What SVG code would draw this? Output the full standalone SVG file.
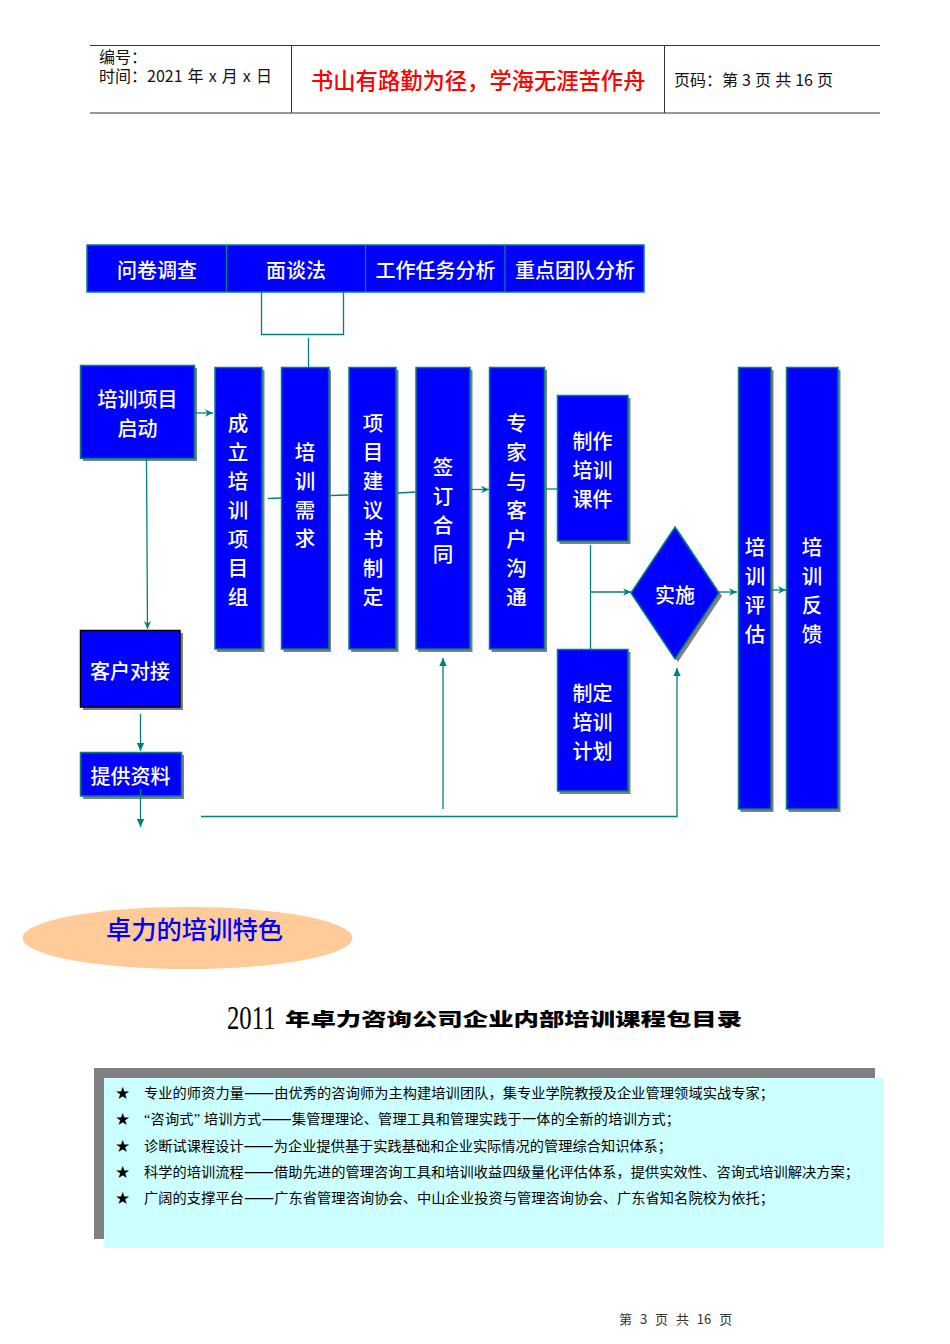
<svg xmlns="http://www.w3.org/2000/svg" width="950" height="1344" viewBox="0 0 950 1344">
<style>
text{font-family:"Noto Sans CJK SC","Noto Sans",sans-serif}
.b{fill:#00f;stroke:#008080;stroke-width:1.5}
.s{fill:#808080}
.t{fill:#fff;font-size:20px;text-anchor:middle;font-weight:500}
.v{fill:#fff;font-size:20.5px;text-anchor:middle;font-weight:500}
.hl{stroke:#333;stroke-width:1;fill:none}
.c{stroke:#008080;stroke-width:1.3;fill:none}
.h{fill:#111;font-size:16px}
.l{fill:#000;font-size:14.2px}
.q{font-family:"Liberation Serif",serif}
.d{font-size:18px}
.st{fill:#000;font-size:17px;text-anchor:middle;font-family:"DejaVu Sans",sans-serif}
</style>
<defs>
<marker id="o" markerUnits="userSpaceOnUse" markerWidth="9" markerHeight="9" refX="8" refY="4.5" orient="auto"><path d="M0,0.8 L8,4.5 L0,8.2 L2.5,4.5z" fill="#008080"/></marker>
<marker id="f" markerUnits="userSpaceOnUse" markerWidth="9" markerHeight="9" refX="8" refY="4.5" orient="auto"><path d="M0,0.8 L8,4.5 L0,8.2z" fill="#008080"/></marker>
</defs>
<g id="header">
<path class="hl" d="M90 45.5H880M90 113H880M291.5 45.5V113M664.5 45.5V113"/>
<text class="h"><tspan x="99" y="63">编号：</tspan><tspan x="99" y="82" style="word-spacing:1.5px">时间：2021 年 x 月 x 日</tspan></text>
<text x="311" y="89" style="fill:#f00;font-size:22.3px;font-weight:500">书山有路勤为径，学海无涯苦作舟</text>
<text class="h" x="674" y="86" style="word-spacing:.5px">页码：第 3 页 共 16 页</text>
</g>
<g id="top-bar">
<rect class="b" x="87" y="245" width="557" height="47"/>
<path class="c" d="M226.500 245V292M365.500 245V292M505 245V292"/>
<text class="t" x="157" y="278">问卷调查</text>
<text class="t" x="296" y="278">面谈法</text>
<text class="t" x="435.500" y="278">工作任务分析</text>
<text class="t" x="575" y="278">重点团队分析</text>
</g>
<g id="n-start"><rect class="s" x="83" y="368" width="114" height="93"/><rect class="b" x="80.500" y="365.500" width="114" height="93"/><text class="t" x="137.500" y="406.500">培训项目</text><text class="t" x="137.500" y="435.500">启动</text></g>
<g id="n-team"><rect class="s" x="217" y="370" width="47.500" height="282"/><rect class="b" x="215" y="367.500" width="47" height="281.500"/><text class="v" x="238 238 238 238 238 238 238" y="430.500 459.500 488.500 517.500 546.500 575.500 604.500">成立培训项目组</text></g>
<g id="n-need"><rect class="s" x="283.500" y="370" width="47.500" height="282"/><rect class="b" x="281.500" y="367.500" width="47.500" height="281.500"/><text class="v" x="305 305 305 305" y="459.500 488.500 517.500 545.500">培训需求</text></g>
<g id="n-proposal"><rect class="s" x="351" y="370" width="47.500" height="282"/><rect class="b" x="349" y="367.500" width="47" height="281.500"/><text class="v" x="373 373 373 373 373 373 373" y="430.500 459.500 488.500 517.500 546.500 575.500 604.500">项目建议书制定</text></g>
<g id="n-contract"><rect class="s" x="418" y="370" width="54.500" height="282"/><rect class="b" x="416" y="367.500" width="54" height="281.500"/><text class="v" x="443 443 443 443" y="474.500 503.500 532.500 561.500">签订合同</text></g>
<g id="n-expert"><rect class="s" x="491.500" y="370" width="55.500" height="282"/><rect class="b" x="489.500" y="367.500" width="55" height="281.500"/><text class="v" x="516.500 516.500 516.500 516.500 516.500 516.500 516.500" y="430.500 459.500 488.500 517.500 546.500 575.500 604.500">专家与客户沟通</text></g>
<g id="n-courseware"><rect class="s" x="559.500" y="398" width="71" height="146"/><rect class="b" x="557.500" y="395.500" width="70.500" height="145.500"/><text class="t" x="592.500" y="448.500">制作</text><text class="t" x="592.500" y="477.500">培训</text><text class="t" x="592.500" y="506.500">课件</text></g>
<g id="n-plan"><rect class="s" x="559.500" y="652" width="71" height="142"/><rect class="b" x="557.500" y="649.500" width="70.500" height="141.500"/><text class="t" x="592.500" y="700.500">制定</text><text class="t" x="592.500" y="729.500">培训</text><text class="t" x="592.500" y="758.500">计划</text></g>
<g id="n-implement"><path class="s" d="M678 530L722 596L678 662L634 596z"/><path class="b" d="M675 527L719 593L675 659L631 593z"/><text class="t" x="675" y="602.500">实施</text></g>
<g id="n-eval"><rect class="s" x="740.500" y="370" width="33" height="442"/><rect class="b" x="738.500" y="367.500" width="32.500" height="441.500"/><text class="v" x="755 755 755 755" y="554.500 583.500 612.500 641.500">培训评估</text></g>
<g id="n-feedback"><rect class="s" x="788.500" y="370" width="52" height="442"/><rect class="b" x="786.500" y="367.500" width="51.500" height="441.500"/><text class="v" x="812 812 812 812" y="554.500 583.500 612.500 641.500">培训反馈</text></g>
<g id="n-client"><rect class="s" x="83" y="633" width="100" height="77"/><rect x="80.500" y="630.500" width="99.500" height="76.500" fill="#00f" stroke="#000" stroke-width="1.500"/><text class="t" x="130" y="678.500">客户对接</text></g>
<g id="n-material"><rect class="s" x="83" y="755" width="101" height="44"/><rect class="b" x="80.500" y="752.500" width="101" height="43.500"/><text class="t" x="130.500" y="783.500">提供资料</text></g>
<g id="connectors">
<path class="c" d="M261.500 292V334.500H343.500V292"/>
<path class="c" d="M308.500 338V367"/>
<path class="c" d="M195 413H213" marker-end="url(#o)"/>
<path class="c" d="M146.500 459L147.500 629" marker-end="url(#o)"/>
<path class="c" d="M268 498.500L281 498"/>
<path class="c" d="M331 495.500L348.500 495"/>
<path class="c" d="M398 493L415.500 492"/>
<path class="c" d="M470 489.500H489" marker-end="url(#o)"/>
<path class="c" d="M546 489H557"/>
<path class="c" d="M590.500 545V649"/>
<path class="c" d="M590.500 592H631" marker-end="url(#o)"/>
<path class="c" d="M719 592H737" marker-end="url(#o)"/>
<path class="c" d="M772 590H786" marker-end="url(#o)"/>
<path class="c" d="M140.500 714V751" marker-end="url(#f)"/>
<path class="c" d="M140.500 789V827" marker-end="url(#f)"/>
<path class="c" d="M201 816.500H677V668" marker-end="url(#f)"/>
<path class="c" d="M443 809V658" marker-end="url(#f)"/>
</g>
<g id="feature-ellipse">
<ellipse cx="187.500" cy="938" rx="165" ry="31" fill="#fc9"/>
<text x="194.500" y="939" style="fill:#00f;font-size:25.300px;text-anchor:middle;font-weight:500">卓力的培训特色</text>
</g>
<g id="title">
<text transform="translate(227 1029) scale(.75 1)" style="font-family:'Liberation Serif',serif;font-size:33px;fill:#000">2011</text>
<text transform="translate(285 1026) scale(1 .72)" style="font-size:25.400px;font-weight:900;fill:#000">年卓力咨询公司企业内部培训课程包目录</text>
</g>
<g id="features">
<rect x="94" y="1068" width="781" height="171" fill="#808080"/>
<rect x="104" y="1078" width="780" height="170" fill="#cff"/>
<text class="st" x="122.500" y="1099">★</text>
<text class="st" x="122.500" y="1125">★</text>
<text class="st" x="122.500" y="1152">★</text>
<text class="st" x="122.500" y="1178">★</text>
<text class="st" x="122.500" y="1204">★</text>
<text class="l" x="144" y="1098" textLength="630">专业的师资力量<tspan class="d" dy="1.400">——</tspan><tspan dy="-1.400">由优秀的咨询师为主构建培训团队，集专业学院教授及企业管理领域实战专家；</tspan></text>
<text class="l" x="144" y="1124" textLength="536"><tspan class="q">“</tspan>咨询式<tspan class="q">” </tspan>培训方式<tspan class="d" dy="1.400">——</tspan><tspan dy="-1.400">集管理理论、管理工具和管理实践于一体的全新的培训方式；</tspan></text>
<text class="l" x="144" y="1151" textLength="528">诊断试课程设计<tspan class="d" dy="1.400">——</tspan><tspan dy="-1.400">为企业提供基于实践基础和企业实际情况的管理综合知识体系；</tspan></text>
<text class="l" x="144" y="1177" textLength="715">科学的培训流程<tspan class="d" dy="1.400">——</tspan><tspan dy="-1.400">借助先进的管理咨询工具和培训收益四级量化评估体系，提供实效性、咨询式培训解决方案；</tspan></text>
<text class="l" x="144" y="1203" textLength="630">广阔的支撑平台<tspan class="d" dy="1.400">——</tspan><tspan dy="-1.400">广东省管理咨询协会、中山企业投资与管理咨询协会、广东省知名院校为依托；</tspan></text>
</g>
<text x="619" y="1324" style="fill:#333;font-size:13px;word-spacing:5px">第 3 页 共 16 页</text>
</svg>
